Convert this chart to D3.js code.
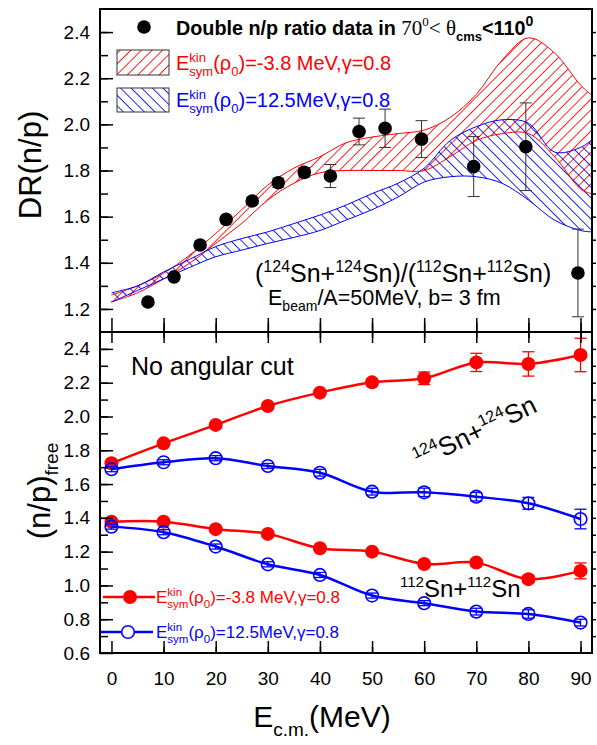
<!DOCTYPE html>
<html><head><meta charset="utf-8">
<script src="https://cdn.jsdelivr.net/npm/d3@7"></script>
<style>body{margin:0;background:#fff}text{white-space:pre}</style>
</head><body>
<svg id="chart" width="597" height="745"></svg>
<script>
// ---------- DATA ----------
const xTickLabels = [0,10,20,30,40,50,60,70,80,90];
const topYTicks = [1.2,1.4,1.6,1.8,2.0,2.2,2.4];
const botYTicks = [0.6,0.8,1.0,1.2,1.4,1.6,1.8,2.0,2.2,2.4];

// Top panel: double ratio data (70 < theta_cms < 110)
const drE   = [7,12,17,22,27,32,37,42,47.5,52.5,59.5,69.5,79.5,89.5];
const drVal = [1.230,1.339,1.477,1.588,1.668,1.747,1.792,1.776,1.969,1.983,1.936,1.817,1.903,1.356];
const drErr = [0.01,0.012,0.012,0.012,0.012,0.02,0.02,0.05,0.058,0.083,0.08,0.13,0.19,0.19];

// Top panel: model bands
const bandE       = [0,5,10,15,20,25,30,35,40,45,50,55,60,65,70,75,80,85,90,92];
const redUpper    = [1.26,1.30,1.355,1.433,1.527,1.63,1.737,1.81,1.86,1.92,1.945,1.96,1.975,2.03,2.13,2.28,2.375,2.31,2.17,2.13];
const redLower    = [1.23,1.27,1.33,1.398,1.484,1.571,1.672,1.745,1.79,1.80,1.80,1.80,1.80,1.86,1.93,1.96,1.96,1.86,1.72,1.70];
const blueUpper   = [1.27,1.30,1.36,1.415,1.47,1.505,1.534,1.57,1.607,1.65,1.70,1.745,1.81,1.93,1.99,2.02,2.005,1.88,1.90,1.93];
const blueLower   = [1.23,1.28,1.33,1.38,1.426,1.455,1.484,1.51,1.54,1.585,1.63,1.685,1.75,1.773,1.773,1.744,1.672,1.585,1.54,1.534];

// Bottom panel: (n/p)free
const freeE      = [0,10,20,30,40,50,60,70,80,90];
const red124     = [1.723,1.841,1.950,2.062,2.141,2.202,2.226,2.320,2.311,2.364];
const red124Err  = [0.01,0.01,0.01,0.012,0.015,0.02,0.037,0.054,0.072,0.099];
const blue124    = [1.688,1.729,1.753,1.707,1.667,1.555,1.551,1.525,1.486,1.393];
const blue124Err = [0.015,0.015,0.015,0.015,0.02,0.02,0.025,0.025,0.035,0.058];
const red112     = [1.377,1.377,1.333,1.305,1.220,1.200,1.127,1.135,1.037,1.086];
const red112Err  = [0.01,0.01,0.01,0.01,0.01,0.01,0.01,0.02,0.02,0.047];
const blue112    = [1.348,1.315,1.230,1.125,1.062,0.940,0.895,0.845,0.831,0.780];
const blue112Err = [0.015,0.015,0.015,0.015,0.015,0.015,0.015,0.02,0.025,0.02];

// ---------- LAYOUT ----------
const svg = d3.select('#chart');
const L = 100, R = 592, T = 9, M = 332, B = 653;
const FONT = "'Liberation Sans', Arial, sans-serif";
const SERIF = "'Liberation Serif', 'Times New Roman', serif";
const RED = '#ff0000', BLUE = '#0000ff';

const x = d3.scaleLinear().domain([-2.2, 92.2]).range([L, R]);
const yT = d3.scaleLinear().domain([1.1, 2.5]).range([M, T]);
const yB = d3.scaleLinear().domain([0.6, 2.5]).range([B, M]);

const defs = svg.append('defs');
function hatch(id, color, angle){
  const p = defs.append('pattern').attr('id', id).attr('patternUnits','userSpaceOnUse')
    .attr('width', 7.5).attr('height', 7.5).attr('patternTransform', `rotate(${angle})`);
  p.append('line').attr('x1',0).attr('y1',0).attr('x2',0).attr('y2',7.5)
    .attr('stroke', color).attr('stroke-width', 1.7);
}
hatch('hRed', RED, 45);
hatch('hBlue', BLUE, -45);
defs.append('clipPath').attr('id','clipTop').append('rect').attr('x',L).attr('y',T).attr('width',R-L).attr('height',M-T);
defs.append('clipPath').attr('id','clipBot').append('rect').attr('x',L).attr('y',M).attr('width',R-L).attr('height',B-M);

// rich text helper
function rich(parent, x0, y0, parts, base){
  const g = parent.append('g');
  let cx = 0;
  function add(q, px){
    return g.append('text').attr('x', px).attr('y', q.dy || 0)
      .attr('font-family', q.family || base.family || FONT)
      .attr('font-size', q.size || base.size)
      .attr('font-weight', q.weight || base.weight || 'normal')
      .attr('fill', q.fill || base.fill || '#000')
      .text(q.t);
  }
  parts.forEach(p => {
    if (p.stack){
      let w = 0;
      p.stack.forEach(q => { const t = add(q, cx); w = Math.max(w, t.node().getComputedTextLength()); });
      cx += w;
    } else {
      const t = add(p, cx); cx += t.node().getComputedTextLength();
    }
  });
  let ox = x0;
  if (base.anchor === 'middle') ox = x0 - cx/2;
  g.attr('transform', `translate(${ox},${y0})` + (base.rotate ? ` rotate(${base.rotate}, ${cx/2}, 0)` : ''));
  g.width = cx;
  return g;
}
function esym(value, size, subSize){
  return [
    {t:'E'},
    {stack:[{t:'kin', size:subSize, dy:-size*0.42},{t:'sym', size:subSize, dy:size*0.3}]},
    {t:'(ρ'},
    {t:'0', size:subSize, dy:size*0.3},
    {t:')' + value}
  ];
}

// ---------- TOP PANEL ----------
const gT = svg.append('g').attr('clip-path','url(#clipTop)');
const areaT = (lo, hi) => d3.area().x((d,i)=>x(bandE[i])).y0((d,i)=>yT(lo[i])).y1((d,i)=>yT(hi[i])).curve(d3.curveCatmullRom.alpha(0.5));
const lineT = arr => d3.line().x((d,i)=>x(bandE[i])).y((d,i)=>yT(arr[i])).curve(d3.curveCatmullRom.alpha(0.5));

gT.append('path').attr('d', areaT(redLower, redUpper)(bandE)).attr('fill','url(#hRed)');
gT.append('path').attr('d', areaT(blueLower, blueUpper)(bandE)).attr('fill','url(#hBlue)');
[[redUpper,RED],[redLower,RED],[blueUpper,BLUE],[blueLower,BLUE]].forEach(([a,c])=>{
  gT.append('path').attr('d', lineT(a)(bandE)).attr('fill','none').attr('stroke',c).attr('stroke-width',1);
});

// DR data with error bars
const gDR = svg.append('g').attr('clip-path','url(#clipTop)');
drE.forEach((e,i)=>{
  const cx = x(e), y1 = yT(drVal[i]+drErr[i]), y2 = yT(drVal[i]-drErr[i]);
  gDR.append('line').attr('x1',cx).attr('x2',cx).attr('y1',y1).attr('y2',y2).attr('stroke','#333').attr('stroke-width',1);
  [y1,y2].forEach(yy=>gDR.append('line').attr('x1',cx-6).attr('x2',cx+6).attr('y1',yy).attr('y2',yy).attr('stroke','#333').attr('stroke-width',1));
  gDR.append('circle').attr('cx',cx).attr('cy',yT(drVal[i])).attr('r',6.8).attr('fill','#000');
});

// top legend
svg.append('circle').attr('cx',144).attr('cy',27).attr('r',6.8).attr('fill','#000');
rich(svg, 176, 35, [
  {t:'Double n/p ratio data in ', weight:'bold'},
  {t:'70', family:SERIF, size:21},
  {t:'0', family:SERIF, size:13, dy:-9},
  {t:'< θ', family:SERIF, size:21},
  {t:'cms', size:13, dy:6, weight:'bold'},
  {t:'<110', weight:'bold'},
  {t:'0', size:14, dy:-9, weight:'bold'}
], {size:19.8});
svg.append('rect').attr('x',117).attr('y',50).attr('width',52).attr('height',25).attr('fill','url(#hRed)').attr('stroke','#333').attr('stroke-width',1);
svg.append('rect').attr('x',117).attr('y',88).attr('width',52).attr('height',24).attr('fill','url(#hBlue)').attr('stroke','#333').attr('stroke-width',1);
rich(svg, 176, 70, esym('=-3.8 MeV,γ=0.8', 20, 13), {size:20, fill:RED});
rich(svg, 176, 107, esym('=12.5MeV,γ=0.8', 20, 13), {size:20, fill:BLUE});

// top annotations
rich(svg, 255, 282, [
  {t:'('},{t:'124', size:16, dy:-10},{t:'Sn+'},{t:'124', size:16, dy:-10},{t:'Sn)/('},
  {t:'112', size:16, dy:-10},{t:'Sn+'},{t:'112', size:16, dy:-10},{t:'Sn)'}
], {size:25});
rich(svg, 268, 305, [
  {t:'E'},{t:'beam', size:14, dy:6},{t:'/A=50MeV, b= 3 fm'}
], {size:21.5});

// ---------- BOTTOM PANEL ----------
const gB = svg.append('g').attr('clip-path','url(#clipBot)');
const lineB = arr => d3.line().x((d,i)=>x(freeE[i])).y((d,i)=>yB(arr[i])).curve(d3.curveCatmullRom.alpha(0.5));
const series = [
  {v:red124, e:red124Err, c:RED, filled:true},
  {v:blue124, e:blue124Err, c:BLUE, filled:false},
  {v:red112, e:red112Err, c:RED, filled:true},
  {v:blue112, e:blue112Err, c:BLUE, filled:false}
];
series.forEach(s=>{
  gB.append('path').attr('d', lineB(s.v)(freeE)).attr('fill','none').attr('stroke',s.c).attr('stroke-width',2.5);
  freeE.forEach((e,i)=>{
    const cx = x(e), ya = yB(s.v[i]+s.e[i]), yb = yB(s.v[i]-s.e[i]);
    gB.append('line').attr('x1',cx).attr('x2',cx).attr('y1',ya).attr('y2',yb).attr('stroke',s.c).attr('stroke-width',1.3);
    [ya,yb].forEach(yy=>gB.append('line').attr('x1',cx-6).attr('x2',cx+6).attr('y1',yy).attr('y2',yy).attr('stroke',s.c).attr('stroke-width',1.3));
    gB.append('circle').attr('cx',cx).attr('cy',yB(s.v[i])).attr('r',s.filled?7:6.3)
      .attr('fill', s.filled ? s.c : 'none').attr('stroke', s.c).attr('stroke-width', s.filled?0:1.6);
  });
});

// bottom legend
svg.append('line').attr('x1',103).attr('x2',155).attr('y1',597).attr('y2',597).attr('stroke',RED).attr('stroke-width',2.5);
svg.append('circle').attr('cx',130).attr('cy',597).attr('r',7).attr('fill',RED);
svg.append('line').attr('x1',101).attr('x2',153).attr('y1',632).attr('y2',632).attr('stroke',BLUE).attr('stroke-width',2.5);
svg.append('circle').attr('cx',128).attr('cy',632).attr('r',6.3).attr('fill','#fff').attr('stroke',BLUE).attr('stroke-width',1.6);
rich(svg, 156, 603, esym('=-3.8 MeV,γ=0.8', 17, 11.5), {size:17, fill:RED});
rich(svg, 156, 638, esym('=12.5MeV,γ=0.8', 17, 11.5), {size:17, fill:BLUE});

svg.append('text').attr('x',131).attr('y',375).attr('font-family',FONT).attr('font-size',25).text('No angular cut');
rich(svg, 479, 440, [
  {t:'124', size:16, dy:-11},{t:'Sn+'},{t:'124', size:16, dy:-11},{t:'Sn'}
], {size:26, anchor:'middle', rotate:-26});
rich(svg, 400, 597, [
  {t:'112', size:15, dy:-10},{t:'Sn+'},{t:'112', size:15, dy:-10},{t:'Sn'}
], {size:24});

// ---------- AXES ----------
function styleAxis(g){
  g.select('.domain').remove();
  g.selectAll('.tick line').attr('stroke','#000').attr('stroke-width',1.5);
  g.selectAll('text').attr('font-family',FONT).attr('font-size',19).attr('fill','#000');
}
const range = (a,b,s)=>d3.range(Math.round(a/s), Math.round(b/s)+1).map(k=>+(k*s).toFixed(3));
// left axes
svg.append('g').attr('transform',`translate(${L},0)`).call(d3.axisLeft(yT).tickValues(range(1.2,2.4,0.1)).tickSizeInner(-8).tickSizeOuter(0).tickFormat('')).call(styleAxis);
svg.append('g').attr('transform',`translate(${L},0)`).call(d3.axisLeft(yT).tickValues(topYTicks).tickSizeInner(-13).tickSizeOuter(0).tickPadding(10).tickFormat(d3.format('.1f'))).call(styleAxis);
svg.append('g').attr('transform',`translate(${L},0)`).call(d3.axisLeft(yB).tickValues(range(0.7,2.4,0.1)).tickSizeInner(-8).tickSizeOuter(0).tickFormat('')).call(styleAxis);
svg.append('g').attr('transform',`translate(${L},0)`).call(d3.axisLeft(yB).tickValues(botYTicks).tickSizeInner(-13).tickSizeOuter(0).tickPadding(10).tickFormat(d3.format('.1f'))).call(styleAxis);
// right small ticks
svg.append('g').attr('transform',`translate(${R},0)`).call(d3.axisRight(yT).tickValues(range(1.2,2.4,0.1)).tickSizeInner(4).tickSizeOuter(0).tickFormat('')).call(styleAxis);
svg.append('g').attr('transform',`translate(${R},0)`).call(d3.axisRight(yB).tickValues(range(0.7,2.4,0.1)).tickSizeInner(4).tickSizeOuter(0).tickFormat('')).call(styleAxis);
// bottom axis
const minorX = range(5,85,10);
svg.append('g').attr('transform',`translate(0,${B})`).call(d3.axisBottom(x).tickValues(minorX).tickSizeInner(-6).tickSizeOuter(0).tickFormat('')).call(styleAxis);
svg.append('g').attr('transform',`translate(0,${B})`).call(d3.axisBottom(x).tickValues(xTickLabels).tickSizeInner(-12).tickSizeOuter(0).tickPadding(19).tickFormat(d3.format('d'))).call(styleAxis);
// divider ticks (top panel bottom, bottom panel top)
svg.append('g').attr('transform',`translate(0,${M})`).call(d3.axisBottom(x).tickValues(minorX).tickSizeInner(-9).tickSizeOuter(0).tickFormat('')).call(styleAxis);
svg.append('g').attr('transform',`translate(0,${M})`).call(d3.axisBottom(x).tickValues(xTickLabels).tickSizeInner(-14).tickSizeOuter(0).tickFormat('')).call(styleAxis);
svg.append('g').attr('transform',`translate(0,${M})`).call(d3.axisTop(x).tickValues(minorX).tickSizeInner(-6).tickSizeOuter(0).tickFormat('')).call(styleAxis);
svg.append('g').attr('transform',`translate(0,${M})`).call(d3.axisTop(x).tickValues(xTickLabels).tickSizeInner(-11).tickSizeOuter(0).tickFormat('')).call(styleAxis);

// frames
svg.append('rect').attr('x',L).attr('y',T).attr('width',R-L).attr('height',M-T).attr('fill','none').attr('stroke','#000').attr('stroke-width',2);
svg.append('rect').attr('x',L).attr('y',M).attr('width',R-L).attr('height',B-M).attr('fill','none').attr('stroke','#000').attr('stroke-width',2);

// axis titles
(function(){
  const g = rich(svg, 0, 0, [{t:'DR(n/p)'}], {size:31});
  g.attr('transform', `translate(41,${165 + g.width/2}) rotate(-90)`);
})();
(function(){
  const g = rich(svg, 0, 0, [{t:'(n/p)'},{t:'free', size:19, dy:8}], {size:31});
  g.attr('transform', `translate(50,${491 + g.width/2}) rotate(-90)`);
})();
(function(){
  const g = rich(svg, 0, 0, [{t:'E'},{t:'c.m.', size:19, dy:9},{t:'(MeV)'}], {size:30});
  g.attr('transform', `translate(${322 - g.width/2},727)`);
})();
</script>
</body></html>
